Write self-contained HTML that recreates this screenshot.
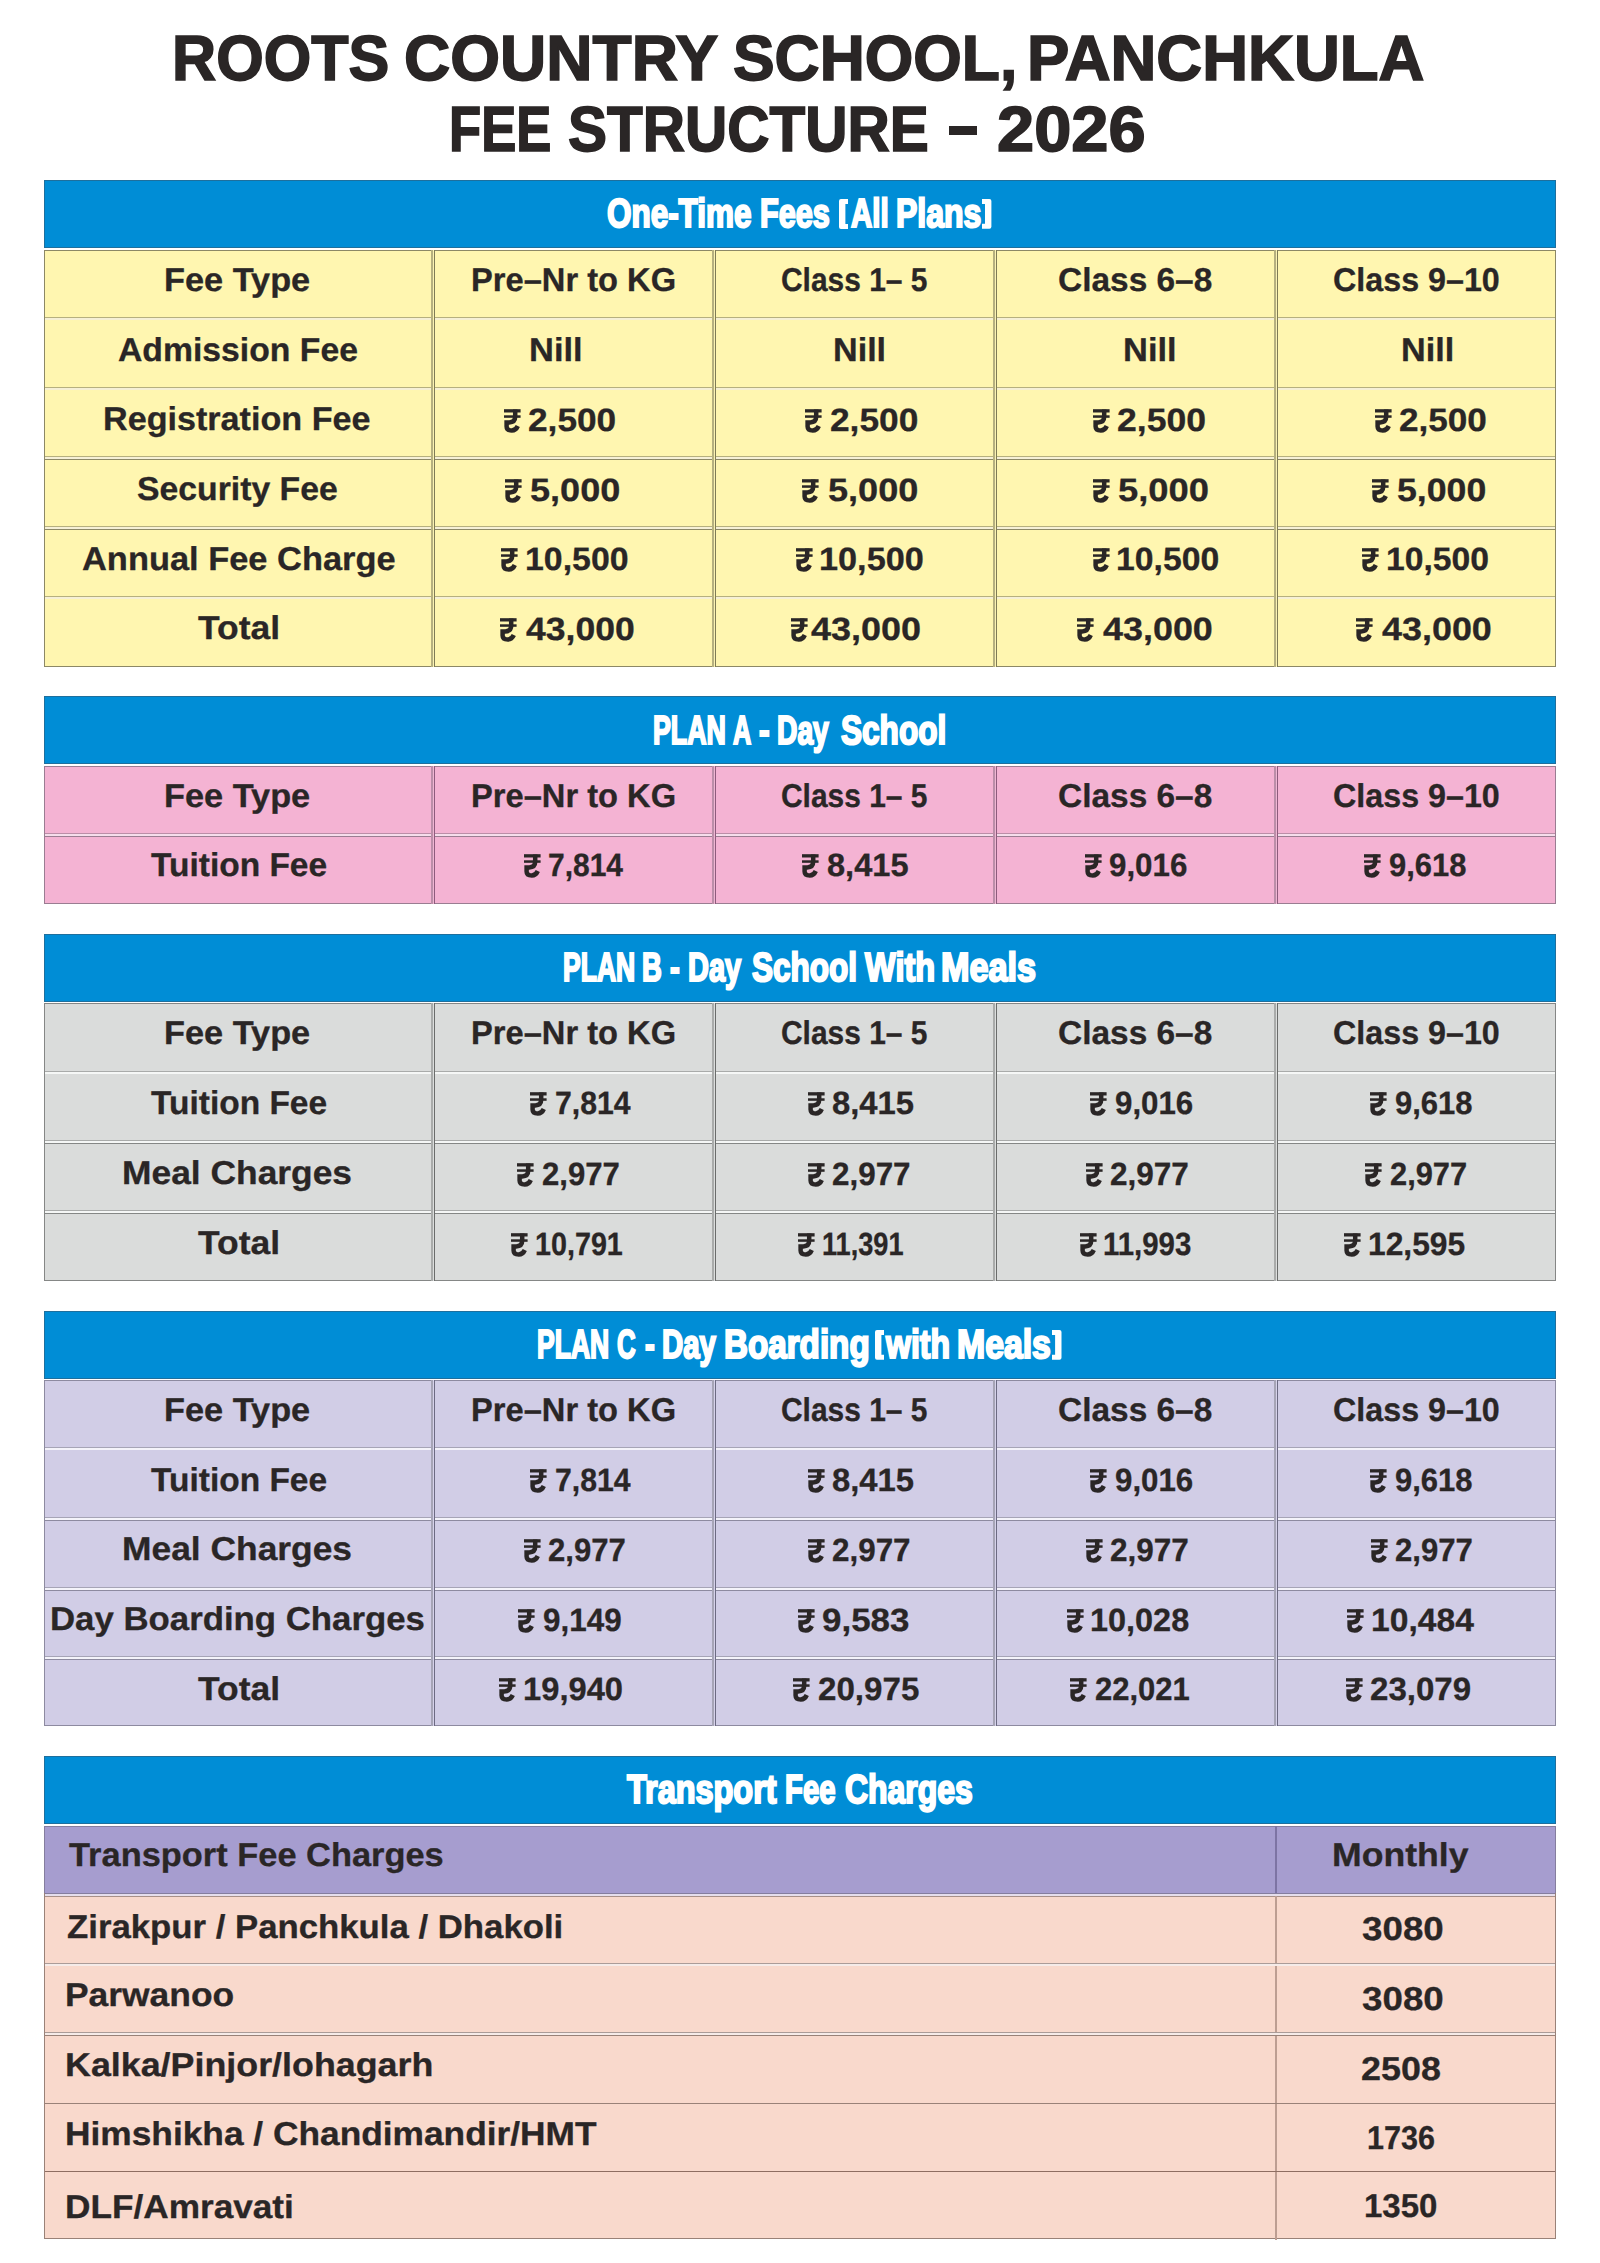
<!DOCTYPE html>
<html><head><meta charset="utf-8"><title>Roots Country School Fee Structure 2026</title>
<style>
*{margin:0;padding:0;box-sizing:border-box}
html,body{width:1600px;height:2263px;background:#fff;overflow:hidden}
body{position:relative;font-family:'Liberation Sans',sans-serif;font-weight:bold}
.t{position:absolute;white-space:nowrap;transform-origin:0 0;text-rendering:geometricPrecision}
.bar{position:absolute;left:44px;width:1512px;background:#008dd6;border:1.2px solid #1e6f9d}
.tbl{position:absolute;left:43.5px;width:1512.5px;border:1.3px solid}
.hd{position:absolute;left:45px;width:1510px;height:3.7px}
.vd{position:absolute;width:3.8px}
.rs{position:absolute;width:16.5px;height:23px;overflow:visible;fill:#2a2626}
</style></head><body>

<div class="bar" style="top:180px;height:67.8px"></div><div class="tbl" style="top:249.7px;height:417.1px;background:#fff6b0;border-color:#8c8866"></div><div class="hd" style="top:316.8px;background:linear-gradient(#b6b07f 0 1.4px,#f6f0d6 1.4px 2.6px,#8c8866 2.6px 3.7px)"></div><div class="hd" style="top:386.7px;background:linear-gradient(#b6b07f 0 1.4px,#f6f0d6 1.4px 2.6px,#8c8866 2.6px 3.7px)"></div><div class="hd" style="top:456.2px;background:linear-gradient(#b6b07f 0 1.4px,#f6f0d6 1.4px 2.6px,#8c8866 2.6px 3.7px)"></div><div class="hd" style="top:526.1px;background:linear-gradient(#b6b07f 0 1.4px,#f6f0d6 1.4px 2.6px,#8c8866 2.6px 3.7px)"></div><div class="hd" style="top:595.6px;background:linear-gradient(#b6b07f 0 1.4px,#f6f0d6 1.4px 2.6px,#8c8866 2.6px 3.7px)"></div><div class="vd" style="left:431.3px;top:249.7px;height:417.1px;background:linear-gradient(90deg,#b6b07f 0 1.6px,#fbf3b4 1.6px 2.7px,#7f7b55 2.7px 3.8px)"></div><div class="vd" style="left:712.2px;top:249.7px;height:417.1px;background:linear-gradient(90deg,#b6b07f 0 1.6px,#fbf3b4 1.6px 2.7px,#7f7b55 2.7px 3.8px)"></div><div class="vd" style="left:993px;top:249.7px;height:417.1px;background:linear-gradient(90deg,#b6b07f 0 1.6px,#fbf3b4 1.6px 2.7px,#7f7b55 2.7px 3.8px)"></div><div class="vd" style="left:1273.9px;top:249.7px;height:417.1px;background:linear-gradient(90deg,#b6b07f 0 1.6px,#fbf3b4 1.6px 2.7px,#7f7b55 2.7px 3.8px)"></div><div class="bar" style="top:696.2px;height:68.1px"></div><div class="tbl" style="top:766.1px;height:137.9px;background:#f4b3d3;border-color:#9a7d92"></div><div class="hd" style="top:832.9px;background:linear-gradient(#bb8ea8 0 1.4px,#f6ddeb 1.4px 2.6px,#9a7d92 2.6px 3.7px)"></div><div class="vd" style="left:431.3px;top:766.1px;height:137.9px;background:linear-gradient(90deg,#bb8ea8 0 1.6px,#efb7d3 1.6px 2.7px,#8e5b7c 2.7px 3.8px)"></div><div class="vd" style="left:712.2px;top:766.1px;height:137.9px;background:linear-gradient(90deg,#bb8ea8 0 1.6px,#efb7d3 1.6px 2.7px,#8e5b7c 2.7px 3.8px)"></div><div class="vd" style="left:993px;top:766.1px;height:137.9px;background:linear-gradient(90deg,#bb8ea8 0 1.6px,#efb7d3 1.6px 2.7px,#8e5b7c 2.7px 3.8px)"></div><div class="vd" style="left:1273.9px;top:766.1px;height:137.9px;background:linear-gradient(90deg,#bb8ea8 0 1.6px,#efb7d3 1.6px 2.7px,#8e5b7c 2.7px 3.8px)"></div><div class="bar" style="top:934px;height:67.6px"></div><div class="tbl" style="top:1003.3px;height:277.7px;background:#dadcdb;border-color:#858786"></div><div class="hd" style="top:1070.7px;background:linear-gradient(#a9abaa 0 1.4px,#f5f7f6 1.4px 2.6px,#858786 2.6px 3.7px)"></div><div class="hd" style="top:1140.3px;background:linear-gradient(#a9abaa 0 1.4px,#f5f7f6 1.4px 2.6px,#858786 2.6px 3.7px)"></div><div class="hd" style="top:1210.2px;background:linear-gradient(#a9abaa 0 1.4px,#f5f7f6 1.4px 2.6px,#858786 2.6px 3.7px)"></div><div class="vd" style="left:431.3px;top:1003.3px;height:277.7px;background:linear-gradient(90deg,#a9abaa 0 1.6px,#dcdedd 1.6px 2.7px,#6a6c6b 2.7px 3.8px)"></div><div class="vd" style="left:712.2px;top:1003.3px;height:277.7px;background:linear-gradient(90deg,#a9abaa 0 1.6px,#dcdedd 1.6px 2.7px,#6a6c6b 2.7px 3.8px)"></div><div class="vd" style="left:993px;top:1003.3px;height:277.7px;background:linear-gradient(90deg,#a9abaa 0 1.6px,#dcdedd 1.6px 2.7px,#6a6c6b 2.7px 3.8px)"></div><div class="vd" style="left:1273.9px;top:1003.3px;height:277.7px;background:linear-gradient(90deg,#a9abaa 0 1.6px,#dcdedd 1.6px 2.7px,#6a6c6b 2.7px 3.8px)"></div><div class="bar" style="top:1311px;height:67.6px"></div><div class="tbl" style="top:1380.4px;height:345.6px;background:#d1cde6;border-color:#8d8aa0"></div><div class="hd" style="top:1446.7px;background:linear-gradient(#a6a4b6 0 1.4px,#f4f3fa 1.4px 2.6px,#8d8aa0 2.6px 3.7px)"></div><div class="hd" style="top:1517px;background:linear-gradient(#a6a4b6 0 1.4px,#f4f3fa 1.4px 2.6px,#8d8aa0 2.6px 3.7px)"></div><div class="hd" style="top:1587.2px;background:linear-gradient(#a6a4b6 0 1.4px,#f4f3fa 1.4px 2.6px,#8d8aa0 2.6px 3.7px)"></div><div class="hd" style="top:1656.3px;background:linear-gradient(#a6a4b6 0 1.4px,#f4f3fa 1.4px 2.6px,#8d8aa0 2.6px 3.7px)"></div><div class="vd" style="left:431.3px;top:1380.4px;height:345.6px;background:linear-gradient(90deg,#a6a4b6 0 1.6px,#d6d2ea 1.6px 2.7px,#6c6a82 2.7px 3.8px)"></div><div class="vd" style="left:712.2px;top:1380.4px;height:345.6px;background:linear-gradient(90deg,#a6a4b6 0 1.6px,#d6d2ea 1.6px 2.7px,#6c6a82 2.7px 3.8px)"></div><div class="vd" style="left:993px;top:1380.4px;height:345.6px;background:linear-gradient(90deg,#a6a4b6 0 1.6px,#d6d2ea 1.6px 2.7px,#6c6a82 2.7px 3.8px)"></div><div class="vd" style="left:1273.9px;top:1380.4px;height:345.6px;background:linear-gradient(90deg,#a6a4b6 0 1.6px,#d6d2ea 1.6px 2.7px,#6c6a82 2.7px 3.8px)"></div><div class="bar" style="top:1756px;height:67.9px"></div><div class="tbl" style="top:1825.8px;height:413.7px;background:#f9d9cc;border-color:#9a8278"></div><div style="position:absolute;left:44px;top:1825.8px;width:1512px;height:67.2px;background:#a69dcf;border:1.3px solid #857e9e;border-bottom:none"></div><div class="hd" style="top:1893px;height:4px;background:linear-gradient(#857e9e 0 1.1px,#e6deec 1.1px 3px,#a89088 3px 4px)"></div><div style="position:absolute;left:1275.3px;top:1825.8px;width:1.6px;height:67.2px;background:#7d74a4"></div><div style="position:absolute;left:1275.3px;top:1896px;width:1.6px;height:343.5px;background:#bd9e92"></div><div class="hd" style="top:1962.8px;background:linear-gradient(#ab9c98 0 1.4px,#f6ebe8 1.4px 2.6px,#9a8278 2.6px 3.7px)"></div><div class="hd" style="top:2032.4px;background:linear-gradient(#ab9c98 0 1.4px,#f6ebe8 1.4px 2.6px,#9a8278 2.6px 3.7px)"></div><div class="hd" style="top:2102.9px;height:1.5px;background:#9a8278"></div><div class="hd" style="top:2170.9px;height:1.3px;background:#8e6e62"></div><svg style="position:absolute;left:838.8px;top:199.0px;width:9.20px;height:29.90px" viewBox="0 0 9.20 29.90"><path d="M2 0H9.20V5.0H6.4V24.90H9.20V29.90H2Q0 29.90 0 27.90V2Q0 0 2 0Z" fill="#fff"/></svg><svg style="position:absolute;left:982.2px;top:199.1px;width:9.40px;height:29.80px" viewBox="0 0 9.40 29.80"><path d="M0 0H7.40Q9.40 0 9.40 2V27.80Q9.40 29.80 7.40 29.80H0V24.80H3.00V5.0H0Z" fill="#fff"/></svg><svg style="position:absolute;left:874.5px;top:1330.0px;width:9.50px;height:29.70px" viewBox="0 0 9.50 29.70"><path d="M2 0H9.50V5.0H6.4V24.70H9.50V29.70H2Q0 29.70 0 27.70V2Q0 0 2 0Z" fill="#fff"/></svg><svg style="position:absolute;left:1052.0px;top:1330.0px;width:9.50px;height:29.70px" viewBox="0 0 9.50 29.70"><path d="M0 0H7.50Q9.50 0 9.50 2V27.70Q9.50 29.70 7.50 29.70H0V24.70H3.10V5.0H0Z" fill="#fff"/></svg><div style="position:absolute;left:948.5px;top:126.3px;width:28.0px;height:8.7px;background:#2a2626"></div><svg class="rs" viewBox="0 0 16.5 23" style="left:503.7px;top:408.9px"><rect x="0" y="0.2" width="16.6" height="3.3"/><rect x="0" y="6.3" width="16.6" height="2.5"/><path d="M11.2 0.5V7.6Q11.2 13.4 5.2 13.4H2.6V17.4Q2.6 21.4 7.8 21.4Q11.9 21.4 13.8 17" fill="none" stroke="#2a2626" stroke-width="4.5"/></svg><svg class="rs" viewBox="0 0 16.5 23" style="left:805px;top:408.9px"><rect x="0" y="0.2" width="16.6" height="3.3"/><rect x="0" y="6.3" width="16.6" height="2.5"/><path d="M11.2 0.5V7.6Q11.2 13.4 5.2 13.4H2.6V17.4Q2.6 21.4 7.8 21.4Q11.9 21.4 13.8 17" fill="none" stroke="#2a2626" stroke-width="4.5"/></svg><svg class="rs" viewBox="0 0 16.5 23" style="left:1092.6px;top:408.9px"><rect x="0" y="0.2" width="16.6" height="3.3"/><rect x="0" y="6.3" width="16.6" height="2.5"/><path d="M11.2 0.5V7.6Q11.2 13.4 5.2 13.4H2.6V17.4Q2.6 21.4 7.8 21.4Q11.9 21.4 13.8 17" fill="none" stroke="#2a2626" stroke-width="4.5"/></svg><svg class="rs" viewBox="0 0 16.5 23" style="left:1374.7px;top:408.9px"><rect x="0" y="0.2" width="16.6" height="3.3"/><rect x="0" y="6.3" width="16.6" height="2.5"/><path d="M11.2 0.5V7.6Q11.2 13.4 5.2 13.4H2.6V17.4Q2.6 21.4 7.8 21.4Q11.9 21.4 13.8 17" fill="none" stroke="#2a2626" stroke-width="4.5"/></svg><svg class="rs" viewBox="0 0 16.5 23" style="left:504.5px;top:478.6px"><rect x="0" y="0.2" width="16.6" height="3.3"/><rect x="0" y="6.3" width="16.6" height="2.5"/><path d="M11.2 0.5V7.6Q11.2 13.4 5.2 13.4H2.6V17.4Q2.6 21.4 7.8 21.4Q11.9 21.4 13.8 17" fill="none" stroke="#2a2626" stroke-width="4.5"/></svg><svg class="rs" viewBox="0 0 16.5 23" style="left:802.4px;top:478.6px"><rect x="0" y="0.2" width="16.6" height="3.3"/><rect x="0" y="6.3" width="16.6" height="2.5"/><path d="M11.2 0.5V7.6Q11.2 13.4 5.2 13.4H2.6V17.4Q2.6 21.4 7.8 21.4Q11.9 21.4 13.8 17" fill="none" stroke="#2a2626" stroke-width="4.5"/></svg><svg class="rs" viewBox="0 0 16.5 23" style="left:1092.6px;top:478.6px"><rect x="0" y="0.2" width="16.6" height="3.3"/><rect x="0" y="6.3" width="16.6" height="2.5"/><path d="M11.2 0.5V7.6Q11.2 13.4 5.2 13.4H2.6V17.4Q2.6 21.4 7.8 21.4Q11.9 21.4 13.8 17" fill="none" stroke="#2a2626" stroke-width="4.5"/></svg><svg class="rs" viewBox="0 0 16.5 23" style="left:1371.5px;top:478.6px"><rect x="0" y="0.2" width="16.6" height="3.3"/><rect x="0" y="6.3" width="16.6" height="2.5"/><path d="M11.2 0.5V7.6Q11.2 13.4 5.2 13.4H2.6V17.4Q2.6 21.4 7.8 21.4Q11.9 21.4 13.8 17" fill="none" stroke="#2a2626" stroke-width="4.5"/></svg><svg class="rs" viewBox="0 0 16.5 23" style="left:501.1px;top:548.3px"><rect x="0" y="0.2" width="16.6" height="3.3"/><rect x="0" y="6.3" width="16.6" height="2.5"/><path d="M11.2 0.5V7.6Q11.2 13.4 5.2 13.4H2.6V17.4Q2.6 21.4 7.8 21.4Q11.9 21.4 13.8 17" fill="none" stroke="#2a2626" stroke-width="4.5"/></svg><svg class="rs" viewBox="0 0 16.5 23" style="left:795.8px;top:548.3px"><rect x="0" y="0.2" width="16.6" height="3.3"/><rect x="0" y="6.3" width="16.6" height="2.5"/><path d="M11.2 0.5V7.6Q11.2 13.4 5.2 13.4H2.6V17.4Q2.6 21.4 7.8 21.4Q11.9 21.4 13.8 17" fill="none" stroke="#2a2626" stroke-width="4.5"/></svg><svg class="rs" viewBox="0 0 16.5 23" style="left:1092.6px;top:548.3px"><rect x="0" y="0.2" width="16.6" height="3.3"/><rect x="0" y="6.3" width="16.6" height="2.5"/><path d="M11.2 0.5V7.6Q11.2 13.4 5.2 13.4H2.6V17.4Q2.6 21.4 7.8 21.4Q11.9 21.4 13.8 17" fill="none" stroke="#2a2626" stroke-width="4.5"/></svg><svg class="rs" viewBox="0 0 16.5 23" style="left:1362.4px;top:548.3px"><rect x="0" y="0.2" width="16.6" height="3.3"/><rect x="0" y="6.3" width="16.6" height="2.5"/><path d="M11.2 0.5V7.6Q11.2 13.4 5.2 13.4H2.6V17.4Q2.6 21.4 7.8 21.4Q11.9 21.4 13.8 17" fill="none" stroke="#2a2626" stroke-width="4.5"/></svg><svg class="rs" viewBox="0 0 16.5 23" style="left:500.3px;top:617.6px"><rect x="0" y="0.2" width="16.6" height="3.3"/><rect x="0" y="6.3" width="16.6" height="2.5"/><path d="M11.2 0.5V7.6Q11.2 13.4 5.2 13.4H2.6V17.4Q2.6 21.4 7.8 21.4Q11.9 21.4 13.8 17" fill="none" stroke="#2a2626" stroke-width="4.5"/></svg><svg class="rs" viewBox="0 0 16.5 23" style="left:791px;top:617.6px"><rect x="0" y="0.2" width="16.6" height="3.3"/><rect x="0" y="6.3" width="16.6" height="2.5"/><path d="M11.2 0.5V7.6Q11.2 13.4 5.2 13.4H2.6V17.4Q2.6 21.4 7.8 21.4Q11.9 21.4 13.8 17" fill="none" stroke="#2a2626" stroke-width="4.5"/></svg><svg class="rs" viewBox="0 0 16.5 23" style="left:1077.4px;top:617.6px"><rect x="0" y="0.2" width="16.6" height="3.3"/><rect x="0" y="6.3" width="16.6" height="2.5"/><path d="M11.2 0.5V7.6Q11.2 13.4 5.2 13.4H2.6V17.4Q2.6 21.4 7.8 21.4Q11.9 21.4 13.8 17" fill="none" stroke="#2a2626" stroke-width="4.5"/></svg><svg class="rs" viewBox="0 0 16.5 23" style="left:1355.9px;top:617.6px"><rect x="0" y="0.2" width="16.6" height="3.3"/><rect x="0" y="6.3" width="16.6" height="2.5"/><path d="M11.2 0.5V7.6Q11.2 13.4 5.2 13.4H2.6V17.4Q2.6 21.4 7.8 21.4Q11.9 21.4 13.8 17" fill="none" stroke="#2a2626" stroke-width="4.5"/></svg><svg class="rs" viewBox="0 0 16.5 23" style="left:523.5px;top:854.1px"><rect x="0" y="0.2" width="16.6" height="3.3"/><rect x="0" y="6.3" width="16.6" height="2.5"/><path d="M11.2 0.5V7.6Q11.2 13.4 5.2 13.4H2.6V17.4Q2.6 21.4 7.8 21.4Q11.9 21.4 13.8 17" fill="none" stroke="#2a2626" stroke-width="4.5"/></svg><svg class="rs" viewBox="0 0 16.5 23" style="left:802.4px;top:854.1px"><rect x="0" y="0.2" width="16.6" height="3.3"/><rect x="0" y="6.3" width="16.6" height="2.5"/><path d="M11.2 0.5V7.6Q11.2 13.4 5.2 13.4H2.6V17.4Q2.6 21.4 7.8 21.4Q11.9 21.4 13.8 17" fill="none" stroke="#2a2626" stroke-width="4.5"/></svg><svg class="rs" viewBox="0 0 16.5 23" style="left:1084.5px;top:854.1px"><rect x="0" y="0.2" width="16.6" height="3.3"/><rect x="0" y="6.3" width="16.6" height="2.5"/><path d="M11.2 0.5V7.6Q11.2 13.4 5.2 13.4H2.6V17.4Q2.6 21.4 7.8 21.4Q11.9 21.4 13.8 17" fill="none" stroke="#2a2626" stroke-width="4.5"/></svg><svg class="rs" viewBox="0 0 16.5 23" style="left:1364.3px;top:854.1px"><rect x="0" y="0.2" width="16.6" height="3.3"/><rect x="0" y="6.3" width="16.6" height="2.5"/><path d="M11.2 0.5V7.6Q11.2 13.4 5.2 13.4H2.6V17.4Q2.6 21.4 7.8 21.4Q11.9 21.4 13.8 17" fill="none" stroke="#2a2626" stroke-width="4.5"/></svg><svg class="rs" viewBox="0 0 16.5 23" style="left:529.8px;top:1091.9px"><rect x="0" y="0.2" width="16.6" height="3.3"/><rect x="0" y="6.3" width="16.6" height="2.5"/><path d="M11.2 0.5V7.6Q11.2 13.4 5.2 13.4H2.6V17.4Q2.6 21.4 7.8 21.4Q11.9 21.4 13.8 17" fill="none" stroke="#2a2626" stroke-width="4.5"/></svg><svg class="rs" viewBox="0 0 16.5 23" style="left:807.6px;top:1091.9px"><rect x="0" y="0.2" width="16.6" height="3.3"/><rect x="0" y="6.3" width="16.6" height="2.5"/><path d="M11.2 0.5V7.6Q11.2 13.4 5.2 13.4H2.6V17.4Q2.6 21.4 7.8 21.4Q11.9 21.4 13.8 17" fill="none" stroke="#2a2626" stroke-width="4.5"/></svg><svg class="rs" viewBox="0 0 16.5 23" style="left:1090.4px;top:1091.9px"><rect x="0" y="0.2" width="16.6" height="3.3"/><rect x="0" y="6.3" width="16.6" height="2.5"/><path d="M11.2 0.5V7.6Q11.2 13.4 5.2 13.4H2.6V17.4Q2.6 21.4 7.8 21.4Q11.9 21.4 13.8 17" fill="none" stroke="#2a2626" stroke-width="4.5"/></svg><svg class="rs" viewBox="0 0 16.5 23" style="left:1369.9px;top:1091.9px"><rect x="0" y="0.2" width="16.6" height="3.3"/><rect x="0" y="6.3" width="16.6" height="2.5"/><path d="M11.2 0.5V7.6Q11.2 13.4 5.2 13.4H2.6V17.4Q2.6 21.4 7.8 21.4Q11.9 21.4 13.8 17" fill="none" stroke="#2a2626" stroke-width="4.5"/></svg><svg class="rs" viewBox="0 0 16.5 23" style="left:517.2px;top:1162.8px"><rect x="0" y="0.2" width="16.6" height="3.3"/><rect x="0" y="6.3" width="16.6" height="2.5"/><path d="M11.2 0.5V7.6Q11.2 13.4 5.2 13.4H2.6V17.4Q2.6 21.4 7.8 21.4Q11.9 21.4 13.8 17" fill="none" stroke="#2a2626" stroke-width="4.5"/></svg><svg class="rs" viewBox="0 0 16.5 23" style="left:807.6px;top:1162.8px"><rect x="0" y="0.2" width="16.6" height="3.3"/><rect x="0" y="6.3" width="16.6" height="2.5"/><path d="M11.2 0.5V7.6Q11.2 13.4 5.2 13.4H2.6V17.4Q2.6 21.4 7.8 21.4Q11.9 21.4 13.8 17" fill="none" stroke="#2a2626" stroke-width="4.5"/></svg><svg class="rs" viewBox="0 0 16.5 23" style="left:1085.5px;top:1162.8px"><rect x="0" y="0.2" width="16.6" height="3.3"/><rect x="0" y="6.3" width="16.6" height="2.5"/><path d="M11.2 0.5V7.6Q11.2 13.4 5.2 13.4H2.6V17.4Q2.6 21.4 7.8 21.4Q11.9 21.4 13.8 17" fill="none" stroke="#2a2626" stroke-width="4.5"/></svg><svg class="rs" viewBox="0 0 16.5 23" style="left:1365px;top:1162.8px"><rect x="0" y="0.2" width="16.6" height="3.3"/><rect x="0" y="6.3" width="16.6" height="2.5"/><path d="M11.2 0.5V7.6Q11.2 13.4 5.2 13.4H2.6V17.4Q2.6 21.4 7.8 21.4Q11.9 21.4 13.8 17" fill="none" stroke="#2a2626" stroke-width="4.5"/></svg><svg class="rs" viewBox="0 0 16.5 23" style="left:510.8px;top:1232.6px"><rect x="0" y="0.2" width="16.6" height="3.3"/><rect x="0" y="6.3" width="16.6" height="2.5"/><path d="M11.2 0.5V7.6Q11.2 13.4 5.2 13.4H2.6V17.4Q2.6 21.4 7.8 21.4Q11.9 21.4 13.8 17" fill="none" stroke="#2a2626" stroke-width="4.5"/></svg><svg class="rs" viewBox="0 0 16.5 23" style="left:798.4px;top:1232.6px"><rect x="0" y="0.2" width="16.6" height="3.3"/><rect x="0" y="6.3" width="16.6" height="2.5"/><path d="M11.2 0.5V7.6Q11.2 13.4 5.2 13.4H2.6V17.4Q2.6 21.4 7.8 21.4Q11.9 21.4 13.8 17" fill="none" stroke="#2a2626" stroke-width="4.5"/></svg><svg class="rs" viewBox="0 0 16.5 23" style="left:1079.6px;top:1232.6px"><rect x="0" y="0.2" width="16.6" height="3.3"/><rect x="0" y="6.3" width="16.6" height="2.5"/><path d="M11.2 0.5V7.6Q11.2 13.4 5.2 13.4H2.6V17.4Q2.6 21.4 7.8 21.4Q11.9 21.4 13.8 17" fill="none" stroke="#2a2626" stroke-width="4.5"/></svg><svg class="rs" viewBox="0 0 16.5 23" style="left:1343.9px;top:1232.6px"><rect x="0" y="0.2" width="16.6" height="3.3"/><rect x="0" y="6.3" width="16.6" height="2.5"/><path d="M11.2 0.5V7.6Q11.2 13.4 5.2 13.4H2.6V17.4Q2.6 21.4 7.8 21.4Q11.9 21.4 13.8 17" fill="none" stroke="#2a2626" stroke-width="4.5"/></svg><svg class="rs" viewBox="0 0 16.5 23" style="left:529.8px;top:1468.8px"><rect x="0" y="0.2" width="16.6" height="3.3"/><rect x="0" y="6.3" width="16.6" height="2.5"/><path d="M11.2 0.5V7.6Q11.2 13.4 5.2 13.4H2.6V17.4Q2.6 21.4 7.8 21.4Q11.9 21.4 13.8 17" fill="none" stroke="#2a2626" stroke-width="4.5"/></svg><svg class="rs" viewBox="0 0 16.5 23" style="left:807.6px;top:1468.8px"><rect x="0" y="0.2" width="16.6" height="3.3"/><rect x="0" y="6.3" width="16.6" height="2.5"/><path d="M11.2 0.5V7.6Q11.2 13.4 5.2 13.4H2.6V17.4Q2.6 21.4 7.8 21.4Q11.9 21.4 13.8 17" fill="none" stroke="#2a2626" stroke-width="4.5"/></svg><svg class="rs" viewBox="0 0 16.5 23" style="left:1090.4px;top:1468.8px"><rect x="0" y="0.2" width="16.6" height="3.3"/><rect x="0" y="6.3" width="16.6" height="2.5"/><path d="M11.2 0.5V7.6Q11.2 13.4 5.2 13.4H2.6V17.4Q2.6 21.4 7.8 21.4Q11.9 21.4 13.8 17" fill="none" stroke="#2a2626" stroke-width="4.5"/></svg><svg class="rs" viewBox="0 0 16.5 23" style="left:1369.9px;top:1468.8px"><rect x="0" y="0.2" width="16.6" height="3.3"/><rect x="0" y="6.3" width="16.6" height="2.5"/><path d="M11.2 0.5V7.6Q11.2 13.4 5.2 13.4H2.6V17.4Q2.6 21.4 7.8 21.4Q11.9 21.4 13.8 17" fill="none" stroke="#2a2626" stroke-width="4.5"/></svg><svg class="rs" viewBox="0 0 16.5 23" style="left:523.5px;top:1539.1px"><rect x="0" y="0.2" width="16.6" height="3.3"/><rect x="0" y="6.3" width="16.6" height="2.5"/><path d="M11.2 0.5V7.6Q11.2 13.4 5.2 13.4H2.6V17.4Q2.6 21.4 7.8 21.4Q11.9 21.4 13.8 17" fill="none" stroke="#2a2626" stroke-width="4.5"/></svg><svg class="rs" viewBox="0 0 16.5 23" style="left:807.6px;top:1539.1px"><rect x="0" y="0.2" width="16.6" height="3.3"/><rect x="0" y="6.3" width="16.6" height="2.5"/><path d="M11.2 0.5V7.6Q11.2 13.4 5.2 13.4H2.6V17.4Q2.6 21.4 7.8 21.4Q11.9 21.4 13.8 17" fill="none" stroke="#2a2626" stroke-width="4.5"/></svg><svg class="rs" viewBox="0 0 16.5 23" style="left:1085.5px;top:1539.1px"><rect x="0" y="0.2" width="16.6" height="3.3"/><rect x="0" y="6.3" width="16.6" height="2.5"/><path d="M11.2 0.5V7.6Q11.2 13.4 5.2 13.4H2.6V17.4Q2.6 21.4 7.8 21.4Q11.9 21.4 13.8 17" fill="none" stroke="#2a2626" stroke-width="4.5"/></svg><svg class="rs" viewBox="0 0 16.5 23" style="left:1370.8px;top:1539.1px"><rect x="0" y="0.2" width="16.6" height="3.3"/><rect x="0" y="6.3" width="16.6" height="2.5"/><path d="M11.2 0.5V7.6Q11.2 13.4 5.2 13.4H2.6V17.4Q2.6 21.4 7.8 21.4Q11.9 21.4 13.8 17" fill="none" stroke="#2a2626" stroke-width="4.5"/></svg><svg class="rs" viewBox="0 0 16.5 23" style="left:518px;top:1608.8px"><rect x="0" y="0.2" width="16.6" height="3.3"/><rect x="0" y="6.3" width="16.6" height="2.5"/><path d="M11.2 0.5V7.6Q11.2 13.4 5.2 13.4H2.6V17.4Q2.6 21.4 7.8 21.4Q11.9 21.4 13.8 17" fill="none" stroke="#2a2626" stroke-width="4.5"/></svg><svg class="rs" viewBox="0 0 16.5 23" style="left:797.9px;top:1608.8px"><rect x="0" y="0.2" width="16.6" height="3.3"/><rect x="0" y="6.3" width="16.6" height="2.5"/><path d="M11.2 0.5V7.6Q11.2 13.4 5.2 13.4H2.6V17.4Q2.6 21.4 7.8 21.4Q11.9 21.4 13.8 17" fill="none" stroke="#2a2626" stroke-width="4.5"/></svg><svg class="rs" viewBox="0 0 16.5 23" style="left:1066.6px;top:1608.8px"><rect x="0" y="0.2" width="16.6" height="3.3"/><rect x="0" y="6.3" width="16.6" height="2.5"/><path d="M11.2 0.5V7.6Q11.2 13.4 5.2 13.4H2.6V17.4Q2.6 21.4 7.8 21.4Q11.9 21.4 13.8 17" fill="none" stroke="#2a2626" stroke-width="4.5"/></svg><svg class="rs" viewBox="0 0 16.5 23" style="left:1347.1px;top:1608.8px"><rect x="0" y="0.2" width="16.6" height="3.3"/><rect x="0" y="6.3" width="16.6" height="2.5"/><path d="M11.2 0.5V7.6Q11.2 13.4 5.2 13.4H2.6V17.4Q2.6 21.4 7.8 21.4Q11.9 21.4 13.8 17" fill="none" stroke="#2a2626" stroke-width="4.5"/></svg><svg class="rs" viewBox="0 0 16.5 23" style="left:499.4px;top:1678.3px"><rect x="0" y="0.2" width="16.6" height="3.3"/><rect x="0" y="6.3" width="16.6" height="2.5"/><path d="M11.2 0.5V7.6Q11.2 13.4 5.2 13.4H2.6V17.4Q2.6 21.4 7.8 21.4Q11.9 21.4 13.8 17" fill="none" stroke="#2a2626" stroke-width="4.5"/></svg><svg class="rs" viewBox="0 0 16.5 23" style="left:793.1px;top:1678.3px"><rect x="0" y="0.2" width="16.6" height="3.3"/><rect x="0" y="6.3" width="16.6" height="2.5"/><path d="M11.2 0.5V7.6Q11.2 13.4 5.2 13.4H2.6V17.4Q2.6 21.4 7.8 21.4Q11.9 21.4 13.8 17" fill="none" stroke="#2a2626" stroke-width="4.5"/></svg><svg class="rs" viewBox="0 0 16.5 23" style="left:1069.9px;top:1678.3px"><rect x="0" y="0.2" width="16.6" height="3.3"/><rect x="0" y="6.3" width="16.6" height="2.5"/><path d="M11.2 0.5V7.6Q11.2 13.4 5.2 13.4H2.6V17.4Q2.6 21.4 7.8 21.4Q11.9 21.4 13.8 17" fill="none" stroke="#2a2626" stroke-width="4.5"/></svg><svg class="rs" viewBox="0 0 16.5 23" style="left:1345.5px;top:1678.3px"><rect x="0" y="0.2" width="16.6" height="3.3"/><rect x="0" y="6.3" width="16.6" height="2.5"/><path d="M11.2 0.5V7.6Q11.2 13.4 5.2 13.4H2.6V17.4Q2.6 21.4 7.8 21.4Q11.9 21.4 13.8 17" fill="none" stroke="#2a2626" stroke-width="4.5"/></svg>
<div class="t" style="left:172.28px;top:27.39px;font-size:63.81px;line-height:63.81px;transform:scaleX(0.9579);color:#2a2626;-webkit-text-stroke:1.6px #2a2626;">ROOTS</div><div class="t" style="left:403.62px;top:27.39px;font-size:63.81px;line-height:63.81px;transform:scaleX(1.0036);color:#2a2626;-webkit-text-stroke:1.6px #2a2626;">COUNTRY</div><div class="t" style="left:733.35px;top:27.39px;font-size:63.81px;line-height:63.81px;transform:scaleX(0.9781);color:#2a2626;-webkit-text-stroke:1.6px #2a2626;">SCHOOL,</div><div class="t" style="left:1027.36px;top:27.39px;font-size:63.81px;line-height:63.81px;transform:scaleX(0.9954);color:#2a2626;-webkit-text-stroke:1.6px #2a2626;">PANCHKULA</div><div class="t" style="left:448.7px;top:98.19px;font-size:63.81px;line-height:63.81px;transform:scaleX(0.8244);color:#2a2626;-webkit-text-stroke:1.6px #2a2626;">FEE</div><div class="t" style="left:568.16px;top:98.19px;font-size:63.81px;line-height:63.81px;transform:scaleX(0.9174);color:#2a2626;-webkit-text-stroke:1.6px #2a2626;">STRUCTURE</div><div class="t" style="left:996.77px;top:98.19px;font-size:63.81px;line-height:63.81px;transform:scaleX(1.0464);color:#2a2626;-webkit-text-stroke:1.6px #2a2626;">2026</div><div class="t" style="left:607.38px;top:193.3px;font-size:40.41px;line-height:40.41px;transform:scaleX(0.7780);color:#ffffff;-webkit-text-stroke:2.2px #fff;">One-Time</div><div class="t" style="left:759.54px;top:193.3px;font-size:40.41px;line-height:40.41px;transform:scaleX(0.7575);color:#ffffff;-webkit-text-stroke:2.2px #fff;">Fees</div><div class="t" style="left:850.86px;top:193.3px;font-size:40.41px;line-height:40.41px;transform:scaleX(0.7276);color:#ffffff;-webkit-text-stroke:2.2px #fff;">All</div><div class="t" style="left:895.79px;top:193.3px;font-size:40.41px;line-height:40.41px;transform:scaleX(0.7924);color:#ffffff;-webkit-text-stroke:2.2px #fff;">Plans</div><div class="t" style="left:653.07px;top:710px;font-size:40.41px;line-height:40.41px;transform:scaleX(0.6632);color:#ffffff;-webkit-text-stroke:2.2px #fff;">PLAN</div><div class="t" style="left:733.31px;top:710px;font-size:40.41px;line-height:40.41px;transform:scaleX(0.6258);color:#ffffff;-webkit-text-stroke:2.2px #fff;">A</div><div class="t" style="left:758.88px;top:710px;font-size:40.41px;line-height:40.41px;transform:scaleX(0.7878);color:#ffffff;-webkit-text-stroke:2.2px #fff;">-</div><div class="t" style="left:777.42px;top:710px;font-size:40.41px;line-height:40.41px;transform:scaleX(0.6992);color:#ffffff;-webkit-text-stroke:2.2px #fff;">Day</div><div class="t" style="left:841.29px;top:710px;font-size:40.41px;line-height:40.41px;transform:scaleX(0.7810);color:#ffffff;-webkit-text-stroke:2.2px #fff;">School</div><div class="t" style="left:562.68px;top:946.9px;font-size:40.41px;line-height:40.41px;transform:scaleX(0.6567);color:#ffffff;-webkit-text-stroke:2.2px #fff;">PLAN</div><div class="t" style="left:642.34px;top:946.9px;font-size:40.41px;line-height:40.41px;transform:scaleX(0.6801);color:#ffffff;-webkit-text-stroke:2.2px #fff;">B</div><div class="t" style="left:670.49px;top:946.9px;font-size:40.41px;line-height:40.41px;transform:scaleX(0.7260);color:#ffffff;-webkit-text-stroke:2.2px #fff;">-</div><div class="t" style="left:687.59px;top:946.9px;font-size:40.41px;line-height:40.41px;transform:scaleX(0.7168);color:#ffffff;-webkit-text-stroke:2.2px #fff;">Day</div><div class="t" style="left:752.49px;top:946.9px;font-size:40.41px;line-height:40.41px;transform:scaleX(0.7803);color:#ffffff;-webkit-text-stroke:2.2px #fff;">School</div><div class="t" style="left:864.89px;top:946.9px;font-size:40.41px;line-height:40.41px;transform:scaleX(0.8053);color:#ffffff;-webkit-text-stroke:2.2px #fff;">With</div><div class="t" style="left:940.71px;top:946.9px;font-size:40.41px;line-height:40.41px;transform:scaleX(0.8462);color:#ffffff;-webkit-text-stroke:2.2px #fff;">Meals</div><div class="t" style="left:536.58px;top:1324.2px;font-size:40.41px;line-height:40.41px;transform:scaleX(0.6567);color:#ffffff;-webkit-text-stroke:2.2px #fff;">PLAN</div><div class="t" style="left:617.4px;top:1324.2px;font-size:40.41px;line-height:40.41px;transform:scaleX(0.6396);color:#ffffff;-webkit-text-stroke:2.2px #fff;">C</div><div class="t" style="left:644.69px;top:1324.2px;font-size:40.41px;line-height:40.41px;transform:scaleX(0.7260);color:#ffffff;-webkit-text-stroke:2.2px #fff;">-</div><div class="t" style="left:661.78px;top:1324.2px;font-size:40.41px;line-height:40.41px;transform:scaleX(0.7276);color:#ffffff;-webkit-text-stroke:2.2px #fff;">Day</div><div class="t" style="left:724.35px;top:1324.2px;font-size:40.41px;line-height:40.41px;transform:scaleX(0.8214);color:#ffffff;-webkit-text-stroke:2.2px #fff;">Boarding</div><div class="t" style="left:886.38px;top:1324.2px;font-size:40.41px;line-height:40.41px;transform:scaleX(0.7917);color:#ffffff;-webkit-text-stroke:2.2px #fff;">with</div><div class="t" style="left:957.32px;top:1324.2px;font-size:40.41px;line-height:40.41px;transform:scaleX(0.8363);color:#ffffff;-webkit-text-stroke:2.2px #fff;">Meals</div><div class="t" style="left:627.18px;top:1768.5px;font-size:40.41px;line-height:40.41px;transform:scaleX(0.8026);color:#ffffff;-webkit-text-stroke:2.2px #fff;">Transport</div><div class="t" style="left:785.48px;top:1768.5px;font-size:40.41px;line-height:40.41px;transform:scaleX(0.7243);color:#ffffff;-webkit-text-stroke:2.2px #fff;">Fee</div><div class="t" style="left:844.88px;top:1768.5px;font-size:40.41px;line-height:40.41px;transform:scaleX(0.7901);color:#ffffff;-webkit-text-stroke:2.2px #fff;">Charges</div><div class="t" style="left:163.73px;top:262.92px;font-size:32.99px;line-height:32.99px;transform:scaleX(1.0402);color:#2a2626;-webkit-text-stroke:0.3px #2a2626;">Fee Type</div><div class="t" style="left:470.92px;top:262.92px;font-size:32.99px;line-height:32.99px;transform:scaleX(0.9903);color:#2a2626;-webkit-text-stroke:0.3px #2a2626;">Pre–Nr to KG</div><div class="t" style="left:781.21px;top:262.92px;font-size:32.99px;line-height:32.99px;transform:scaleX(0.9075);color:#2a2626;-webkit-text-stroke:0.3px #2a2626;">Class 1– 5</div><div class="t" style="left:1057.92px;top:262.92px;font-size:32.99px;line-height:32.99px;transform:scaleX(1.0138);color:#2a2626;-webkit-text-stroke:0.3px #2a2626;">Class 6–8</div><div class="t" style="left:1333.25px;top:262.92px;font-size:32.99px;line-height:32.99px;transform:scaleX(0.9778);color:#2a2626;-webkit-text-stroke:0.3px #2a2626;">Class 9–10</div><div class="t" style="left:118.15px;top:332.62px;font-size:32.99px;line-height:32.99px;transform:scaleX(1.0227);color:#2a2626;-webkit-text-stroke:0.3px #2a2626;">Admission Fee</div><div class="t" style="left:528.72px;top:332.62px;font-size:32.99px;line-height:32.99px;transform:scaleX(1.0452);color:#2a2626;-webkit-text-stroke:0.3px #2a2626;">Nill</div><div class="t" style="left:832.84px;top:332.62px;font-size:32.99px;line-height:32.99px;transform:scaleX(1.0347);color:#2a2626;-webkit-text-stroke:0.3px #2a2626;">Nill</div><div class="t" style="left:1123.12px;top:332.62px;font-size:32.99px;line-height:32.99px;transform:scaleX(1.0452);color:#2a2626;-webkit-text-stroke:0.3px #2a2626;">Nill</div><div class="t" style="left:1401.33px;top:332.62px;font-size:32.99px;line-height:32.99px;transform:scaleX(1.0368);color:#2a2626;-webkit-text-stroke:0.3px #2a2626;">Nill</div><div class="t" style="left:103.34px;top:402.12px;font-size:32.99px;line-height:32.99px;transform:scaleX(1.0349);color:#2a2626;-webkit-text-stroke:0.3px #2a2626;">Registration Fee</div><div class="t" style="left:137.45px;top:472.12px;font-size:32.99px;line-height:32.99px;transform:scaleX(1.0234);color:#2a2626;-webkit-text-stroke:0.3px #2a2626;">Security Fee</div><div class="t" style="left:81.64px;top:541.92px;font-size:32.99px;line-height:32.99px;transform:scaleX(1.0434);color:#2a2626;-webkit-text-stroke:0.3px #2a2626;">Annual Fee Charge</div><div class="t" style="left:198.36px;top:611.12px;font-size:32.99px;line-height:32.99px;transform:scaleX(1.0745);color:#2a2626;-webkit-text-stroke:0.3px #2a2626;">Total</div><div class="t" style="left:163.73px;top:778.92px;font-size:32.99px;line-height:32.99px;transform:scaleX(1.0402);color:#2a2626;-webkit-text-stroke:0.3px #2a2626;">Fee Type</div><div class="t" style="left:470.92px;top:778.92px;font-size:32.99px;line-height:32.99px;transform:scaleX(0.9903);color:#2a2626;-webkit-text-stroke:0.3px #2a2626;">Pre–Nr to KG</div><div class="t" style="left:781.21px;top:778.92px;font-size:32.99px;line-height:32.99px;transform:scaleX(0.9075);color:#2a2626;-webkit-text-stroke:0.3px #2a2626;">Class 1– 5</div><div class="t" style="left:1057.92px;top:778.92px;font-size:32.99px;line-height:32.99px;transform:scaleX(1.0138);color:#2a2626;-webkit-text-stroke:0.3px #2a2626;">Class 6–8</div><div class="t" style="left:1333.25px;top:778.92px;font-size:32.99px;line-height:32.99px;transform:scaleX(0.9778);color:#2a2626;-webkit-text-stroke:0.3px #2a2626;">Class 9–10</div><div class="t" style="left:150.65px;top:847.72px;font-size:32.99px;line-height:32.99px;transform:scaleX(1.0153);color:#2a2626;-webkit-text-stroke:0.3px #2a2626;">Tuition Fee</div><div class="t" style="left:163.73px;top:1015.92px;font-size:32.99px;line-height:32.99px;transform:scaleX(1.0402);color:#2a2626;-webkit-text-stroke:0.3px #2a2626;">Fee Type</div><div class="t" style="left:470.92px;top:1015.92px;font-size:32.99px;line-height:32.99px;transform:scaleX(0.9903);color:#2a2626;-webkit-text-stroke:0.3px #2a2626;">Pre–Nr to KG</div><div class="t" style="left:781.21px;top:1015.92px;font-size:32.99px;line-height:32.99px;transform:scaleX(0.9075);color:#2a2626;-webkit-text-stroke:0.3px #2a2626;">Class 1– 5</div><div class="t" style="left:1057.92px;top:1015.92px;font-size:32.99px;line-height:32.99px;transform:scaleX(1.0138);color:#2a2626;-webkit-text-stroke:0.3px #2a2626;">Class 6–8</div><div class="t" style="left:1333.25px;top:1015.92px;font-size:32.99px;line-height:32.99px;transform:scaleX(0.9778);color:#2a2626;-webkit-text-stroke:0.3px #2a2626;">Class 9–10</div><div class="t" style="left:150.65px;top:1085.62px;font-size:32.99px;line-height:32.99px;transform:scaleX(1.0153);color:#2a2626;-webkit-text-stroke:0.3px #2a2626;">Tuition Fee</div><div class="t" style="left:122.27px;top:1156.02px;font-size:32.99px;line-height:32.99px;transform:scaleX(1.0725);color:#2a2626;-webkit-text-stroke:0.3px #2a2626;">Meal Charges</div><div class="t" style="left:198.36px;top:1225.72px;font-size:32.99px;line-height:32.99px;transform:scaleX(1.0745);color:#2a2626;-webkit-text-stroke:0.3px #2a2626;">Total</div><div class="t" style="left:163.73px;top:1392.92px;font-size:32.99px;line-height:32.99px;transform:scaleX(1.0402);color:#2a2626;-webkit-text-stroke:0.3px #2a2626;">Fee Type</div><div class="t" style="left:470.92px;top:1392.92px;font-size:32.99px;line-height:32.99px;transform:scaleX(0.9903);color:#2a2626;-webkit-text-stroke:0.3px #2a2626;">Pre–Nr to KG</div><div class="t" style="left:781.21px;top:1392.92px;font-size:32.99px;line-height:32.99px;transform:scaleX(0.9075);color:#2a2626;-webkit-text-stroke:0.3px #2a2626;">Class 1– 5</div><div class="t" style="left:1057.92px;top:1392.92px;font-size:32.99px;line-height:32.99px;transform:scaleX(1.0138);color:#2a2626;-webkit-text-stroke:0.3px #2a2626;">Class 6–8</div><div class="t" style="left:1333.25px;top:1392.92px;font-size:32.99px;line-height:32.99px;transform:scaleX(0.9778);color:#2a2626;-webkit-text-stroke:0.3px #2a2626;">Class 9–10</div><div class="t" style="left:150.65px;top:1462.62px;font-size:32.99px;line-height:32.99px;transform:scaleX(1.0153);color:#2a2626;-webkit-text-stroke:0.3px #2a2626;">Tuition Fee</div><div class="t" style="left:122.27px;top:1531.52px;font-size:32.99px;line-height:32.99px;transform:scaleX(1.0725);color:#2a2626;-webkit-text-stroke:0.3px #2a2626;">Meal Charges</div><div class="t" style="left:49.6px;top:1602.12px;font-size:32.99px;line-height:32.99px;transform:scaleX(1.0544);color:#2a2626;-webkit-text-stroke:0.3px #2a2626;">Day Boarding Charges</div><div class="t" style="left:198.36px;top:1671.92px;font-size:32.99px;line-height:32.99px;transform:scaleX(1.0745);color:#2a2626;-webkit-text-stroke:0.3px #2a2626;">Total</div><div class="t" style="left:68.56px;top:1838.02px;font-size:32.99px;line-height:32.99px;transform:scaleX(1.0431);color:#2a2626;-webkit-text-stroke:0.3px #2a2626;">Transport Fee Charges</div><div class="t" style="left:1332.05px;top:1838.22px;font-size:32.99px;line-height:32.99px;transform:scaleX(1.0804);color:#2a2626;-webkit-text-stroke:0.3px #2a2626;">Monthly</div><div class="t" style="left:66.84px;top:1909.62px;font-size:32.99px;line-height:32.99px;transform:scaleX(1.0535);color:#2a2626;-webkit-text-stroke:0.3px #2a2626;">Zirakpur / Panchkula / Dhakoli</div><div class="t" style="left:1361.82px;top:1912.32px;font-size:32.99px;line-height:32.99px;transform:scaleX(1.1146);color:#2a2626;-webkit-text-stroke:0.3px #2a2626;">3080</div><div class="t" style="left:65.17px;top:1977.92px;font-size:32.99px;line-height:32.99px;transform:scaleX(1.0731);color:#2a2626;-webkit-text-stroke:0.3px #2a2626;">Parwanoo</div><div class="t" style="left:1361.82px;top:1981.72px;font-size:32.99px;line-height:32.99px;transform:scaleX(1.1146);color:#2a2626;-webkit-text-stroke:0.3px #2a2626;">3080</div><div class="t" style="left:65.14px;top:2047.92px;font-size:32.99px;line-height:32.99px;transform:scaleX(1.0864);color:#2a2626;-webkit-text-stroke:0.3px #2a2626;">Kalka/Pinjor/lohagarh</div><div class="t" style="left:1361.25px;top:2052.42px;font-size:32.99px;line-height:32.99px;transform:scaleX(1.0882);color:#2a2626;-webkit-text-stroke:0.3px #2a2626;">2508</div><div class="t" style="left:65.17px;top:2116.52px;font-size:32.99px;line-height:32.99px;transform:scaleX(1.0702);color:#2a2626;-webkit-text-stroke:0.3px #2a2626;">Himshikha / Chandimandir/HMT</div><div class="t" style="left:1367.04px;top:2120.72px;font-size:32.99px;line-height:32.99px;transform:scaleX(0.9260);color:#2a2626;-webkit-text-stroke:0.3px #2a2626;">1736</div><div class="t" style="left:65.18px;top:2189.62px;font-size:32.99px;line-height:32.99px;transform:scaleX(1.0673);color:#2a2626;-webkit-text-stroke:0.3px #2a2626;">DLF/Amravati</div><div class="t" style="left:1364.1px;top:2188.72px;font-size:32.99px;line-height:32.99px;transform:scaleX(0.9998);color:#2a2626;-webkit-text-stroke:0.3px #2a2626;">1350</div><div class="t" style="left:528.27px;top:403.84px;font-size:32.27px;line-height:32.27px;transform:scaleX(1.0922);color:#2a2626;-webkit-text-stroke:0.3px #2a2626;">2,500</div><div class="t" style="left:829.57px;top:403.84px;font-size:32.27px;line-height:32.27px;transform:scaleX(1.0934);color:#2a2626;-webkit-text-stroke:0.3px #2a2626;">2,500</div><div class="t" style="left:1117.16px;top:403.84px;font-size:32.27px;line-height:32.27px;transform:scaleX(1.1011);color:#2a2626;-webkit-text-stroke:0.3px #2a2626;">2,500</div><div class="t" style="left:1399.27px;top:403.84px;font-size:32.27px;line-height:32.27px;transform:scaleX(1.0884);color:#2a2626;-webkit-text-stroke:0.3px #2a2626;">2,500</div><div class="t" style="left:529.63px;top:473.54px;font-size:32.27px;line-height:32.27px;transform:scaleX(1.1179);color:#2a2626;-webkit-text-stroke:0.3px #2a2626;">5,000</div><div class="t" style="left:827.53px;top:473.54px;font-size:32.27px;line-height:32.27px;transform:scaleX(1.1191);color:#2a2626;-webkit-text-stroke:0.3px #2a2626;">5,000</div><div class="t" style="left:1117.72px;top:473.54px;font-size:32.27px;line-height:32.27px;transform:scaleX(1.1267);color:#2a2626;-webkit-text-stroke:0.3px #2a2626;">5,000</div><div class="t" style="left:1396.63px;top:473.54px;font-size:32.27px;line-height:32.27px;transform:scaleX(1.1052);color:#2a2626;-webkit-text-stroke:0.3px #2a2626;">5,000</div><div class="t" style="left:524.66px;top:543.24px;font-size:32.27px;line-height:32.27px;transform:scaleX(1.0493);color:#2a2626;-webkit-text-stroke:0.3px #2a2626;">10,500</div><div class="t" style="left:819.33px;top:543.24px;font-size:32.27px;line-height:32.27px;transform:scaleX(1.0618);color:#2a2626;-webkit-text-stroke:0.3px #2a2626;">10,500</div><div class="t" style="left:1116.17px;top:543.24px;font-size:32.27px;line-height:32.27px;transform:scaleX(1.0451);color:#2a2626;-webkit-text-stroke:0.3px #2a2626;">10,500</div><div class="t" style="left:1385.97px;top:543.24px;font-size:32.27px;line-height:32.27px;transform:scaleX(1.0441);color:#2a2626;-webkit-text-stroke:0.3px #2a2626;">10,500</div><div class="t" style="left:525.97px;top:612.54px;font-size:32.27px;line-height:32.27px;transform:scaleX(1.1015);color:#2a2626;-webkit-text-stroke:0.3px #2a2626;">43,000</div><div class="t" style="left:811.07px;top:612.54px;font-size:32.27px;line-height:32.27px;transform:scaleX(1.1148);color:#2a2626;-webkit-text-stroke:0.3px #2a2626;">43,000</div><div class="t" style="left:1103.07px;top:612.54px;font-size:32.27px;line-height:32.27px;transform:scaleX(1.1128);color:#2a2626;-webkit-text-stroke:0.3px #2a2626;">43,000</div><div class="t" style="left:1381.57px;top:612.54px;font-size:32.27px;line-height:32.27px;transform:scaleX(1.1128);color:#2a2626;-webkit-text-stroke:0.3px #2a2626;">43,000</div><div class="t" style="left:548.21px;top:849.04px;font-size:32.27px;line-height:32.27px;transform:scaleX(0.9295);color:#2a2626;-webkit-text-stroke:0.3px #2a2626;">7,814</div><div class="t" style="left:827.04px;top:849.04px;font-size:32.27px;line-height:32.27px;transform:scaleX(1.0094);color:#2a2626;-webkit-text-stroke:0.3px #2a2626;">8,415</div><div class="t" style="left:1109.18px;top:849.04px;font-size:32.27px;line-height:32.27px;transform:scaleX(0.9702);color:#2a2626;-webkit-text-stroke:0.3px #2a2626;">9,016</div><div class="t" style="left:1388.99px;top:849.04px;font-size:32.27px;line-height:32.27px;transform:scaleX(0.9576);color:#2a2626;-webkit-text-stroke:0.3px #2a2626;">9,618</div><div class="t" style="left:554.5px;top:1086.84px;font-size:32.27px;line-height:32.27px;transform:scaleX(0.9357);color:#2a2626;-webkit-text-stroke:0.3px #2a2626;">7,814</div><div class="t" style="left:832.24px;top:1086.84px;font-size:32.27px;line-height:32.27px;transform:scaleX(1.0169);color:#2a2626;-webkit-text-stroke:0.3px #2a2626;">8,415</div><div class="t" style="left:1115.08px;top:1086.84px;font-size:32.27px;line-height:32.27px;transform:scaleX(0.9690);color:#2a2626;-webkit-text-stroke:0.3px #2a2626;">9,016</div><div class="t" style="left:1394.58px;top:1086.84px;font-size:32.27px;line-height:32.27px;transform:scaleX(0.9614);color:#2a2626;-webkit-text-stroke:0.3px #2a2626;">9,618</div><div class="t" style="left:541.88px;top:1157.74px;font-size:32.27px;line-height:32.27px;transform:scaleX(0.9639);color:#2a2626;-webkit-text-stroke:0.3px #2a2626;">2,977</div><div class="t" style="left:832.27px;top:1157.74px;font-size:32.27px;line-height:32.27px;transform:scaleX(0.9728);color:#2a2626;-webkit-text-stroke:0.3px #2a2626;">2,977</div><div class="t" style="left:1110.17px;top:1157.74px;font-size:32.27px;line-height:32.27px;transform:scaleX(0.9766);color:#2a2626;-webkit-text-stroke:0.3px #2a2626;">2,977</div><div class="t" style="left:1389.69px;top:1157.74px;font-size:32.27px;line-height:32.27px;transform:scaleX(0.9550);color:#2a2626;-webkit-text-stroke:0.3px #2a2626;">2,977</div><div class="t" style="left:534.65px;top:1227.54px;font-size:32.27px;line-height:32.27px;transform:scaleX(0.8898);color:#2a2626;-webkit-text-stroke:0.3px #2a2626;">10,791</div><div class="t" style="left:822.34px;top:1227.54px;font-size:32.27px;line-height:32.27px;transform:scaleX(0.8419);color:#2a2626;-webkit-text-stroke:0.3px #2a2626;">11,391</div><div class="t" style="left:1103.41px;top:1227.54px;font-size:32.27px;line-height:32.27px;transform:scaleX(0.9108);color:#2a2626;-webkit-text-stroke:0.3px #2a2626;">11,993</div><div class="t" style="left:1367.58px;top:1227.54px;font-size:32.27px;line-height:32.27px;transform:scaleX(0.9844);color:#2a2626;-webkit-text-stroke:0.3px #2a2626;">12,595</div><div class="t" style="left:554.5px;top:1463.74px;font-size:32.27px;line-height:32.27px;transform:scaleX(0.9357);color:#2a2626;-webkit-text-stroke:0.3px #2a2626;">7,814</div><div class="t" style="left:832.24px;top:1463.74px;font-size:32.27px;line-height:32.27px;transform:scaleX(1.0169);color:#2a2626;-webkit-text-stroke:0.3px #2a2626;">8,415</div><div class="t" style="left:1115.08px;top:1463.74px;font-size:32.27px;line-height:32.27px;transform:scaleX(0.9690);color:#2a2626;-webkit-text-stroke:0.3px #2a2626;">9,016</div><div class="t" style="left:1394.58px;top:1463.74px;font-size:32.27px;line-height:32.27px;transform:scaleX(0.9614);color:#2a2626;-webkit-text-stroke:0.3px #2a2626;">9,618</div><div class="t" style="left:548.18px;top:1534.04px;font-size:32.27px;line-height:32.27px;transform:scaleX(0.9639);color:#2a2626;-webkit-text-stroke:0.3px #2a2626;">2,977</div><div class="t" style="left:832.27px;top:1534.04px;font-size:32.27px;line-height:32.27px;transform:scaleX(0.9728);color:#2a2626;-webkit-text-stroke:0.3px #2a2626;">2,977</div><div class="t" style="left:1110.17px;top:1534.04px;font-size:32.27px;line-height:32.27px;transform:scaleX(0.9766);color:#2a2626;-webkit-text-stroke:0.3px #2a2626;">2,977</div><div class="t" style="left:1395.48px;top:1534.04px;font-size:32.27px;line-height:32.27px;transform:scaleX(0.9639);color:#2a2626;-webkit-text-stroke:0.3px #2a2626;">2,977</div><div class="t" style="left:542.67px;top:1603.74px;font-size:32.27px;line-height:32.27px;transform:scaleX(0.9740);color:#2a2626;-webkit-text-stroke:0.3px #2a2626;">9,149</div><div class="t" style="left:822.48px;top:1603.74px;font-size:32.27px;line-height:32.27px;transform:scaleX(1.0825);color:#2a2626;-webkit-text-stroke:0.3px #2a2626;">9,583</div><div class="t" style="left:1090.24px;top:1603.74px;font-size:32.27px;line-height:32.27px;transform:scaleX(1.0052);color:#2a2626;-webkit-text-stroke:0.3px #2a2626;">10,028</div><div class="t" style="left:1370.67px;top:1603.74px;font-size:32.27px;line-height:32.27px;transform:scaleX(1.0422);color:#2a2626;-webkit-text-stroke:0.3px #2a2626;">10,484</div><div class="t" style="left:523.02px;top:1673.24px;font-size:32.27px;line-height:32.27px;transform:scaleX(1.0138);color:#2a2626;-webkit-text-stroke:0.3px #2a2626;">19,940</div><div class="t" style="left:817.73px;top:1673.24px;font-size:32.27px;line-height:32.27px;transform:scaleX(1.0268);color:#2a2626;-webkit-text-stroke:0.3px #2a2626;">20,975</div><div class="t" style="left:1094.58px;top:1673.24px;font-size:32.27px;line-height:32.27px;transform:scaleX(0.9609);color:#2a2626;-webkit-text-stroke:0.3px #2a2626;">22,021</div><div class="t" style="left:1370.13px;top:1673.24px;font-size:32.27px;line-height:32.27px;transform:scaleX(1.0247);color:#2a2626;-webkit-text-stroke:0.3px #2a2626;">23,079</div>
</body></html>
